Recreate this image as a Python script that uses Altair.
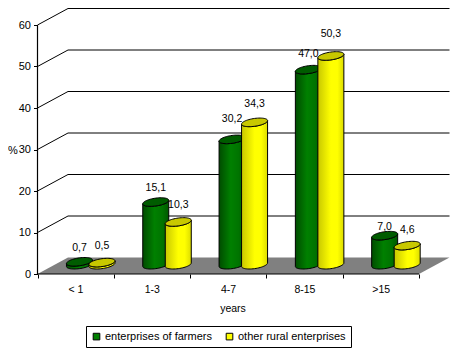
import json
import numpy as np
import pandas as pd
import altair as alt

categories = ["< 1", "1-3", "4-7", "8-15", ">15"]
farmers = [0.7, 15.1, 30.2, 47.0, 7.0]
other = [0.5, 10.3, 34.3, 50.3, 4.6]
series_names = ["enterprises of farmers", "other rural enterprises"]
y_ticks = [0, 10, 20, 30, 40, 50, 60]
# how far each value label sits above its bar top, in value units
farmers_lift = [3.3, 3.5, 4.9, 3.8, 2.2]
other_lift = [3.9, 4.2, 4.4, 5.2, 3.8]

W, H = 449, 341
PX_X, PX_Y = 76.3, 4.15
x_dom = [(8 - 37.5) / PX_X, (457 - 37.5) / PX_X]
y_dom = [(274 - 349) / PX_Y, (274 - 8) / PX_Y]
xs = alt.Scale(domain=x_dom, nice=False, zero=False)
ys = alt.Scale(domain=y_dom, nice=False, zero=False)

DEPTH_X, DEPTH_Y = 30.5 / PX_X, 16.5 / PX_Y
N = len(categories)
HALF_W, HALF_H, PHI = 13 / PX_X, 4.3 / PX_Y, 0.42
BASE = 2.24
OFFS = [0.55, 0.845]

FONT = "Liberation Sans"
label_expr = "(" + json.dumps(categories) + ")[datum.value] || ''"

x_axis = alt.Axis(
    values=list(range(N + 1)), labelExpr=label_expr, labelOffset=38, labelFont=FONT,
    labelFontSize=10.5, labelColor="black", labelPadding=6, tickColor="black", tickSize=4,
    domain=False, grid=False, offset=-75, title="years", titleFont=FONT, titleFontSize=10.5,
    titleFontWeight="normal", titleColor="black", titlePadding=9)
y_axis = alt.Axis(
    values=y_ticks, labelFont=FONT, labelFontSize=11, labelColor="black", labelPadding=3,
    tickColor="black", tickSize=4, domain=False, grid=False, offset=-29.5, title="%",
    titleFont=FONT, titleFontSize=11, titleFontWeight="normal", titleColor="black",
    titleAngle=0, titleX=-25, titleY=147, titleAlign="center")


def X():
    return alt.X("x:Q", scale=xs, axis=x_axis)


def Y():
    return alt.Y("y:Q", scale=ys, stack=None, axis=y_axis)


def ell(v, s, sign):
    return v + HALF_H * (sign * np.sin(s) * np.cos(PHI) + np.cos(s) * np.sin(PHI))


def cylinders(vals, off):
    body, cap = [], []
    for i, v in enumerate(vals):
        c = i + off
        for s in np.linspace(0, np.pi, 29):
            px = c + HALF_W * np.cos(s)
            top = BASE + v
            body.append(dict(b=i, x=px, y=ell(top, s, -1), y2=ell(BASE, s, -1)))
            cap.append(dict(b=i, x=px, y=ell(top, s, 1), y2=ell(top, s, -1)))
    return pd.DataFrame(body), pd.DataFrame(cap)


def cyl_layers(vals, off, stops, cap_color):
    body, cap = cylinders(vals, off)
    grad = alt.Gradient(
        gradient="linear", x1=0, y1=0, x2=1, y2=0,
        stops=[alt.GradientStop(offset=o, color=c) for o, c in stops],
    )
    a = alt.Chart(body).mark_area(fill=grad, stroke="black", strokeWidth=1, interpolate="linear").encode(
        x=X(), y=Y(), y2="y2:Q", detail="b:N")
    b = alt.Chart(cap).mark_area(fill=cap_color, stroke="black", strokeWidth=1, interpolate="linear").encode(
        x=X(), y=Y(), y2="y2:Q", detail="b:N")
    return [a, b]


# floor
floor_df = pd.DataFrame([
    dict(x=0, y=0, y2=0),
    dict(x=DEPTH_X, y=DEPTH_Y, y2=0),
    dict(x=N, y=DEPTH_Y, y2=0),
    dict(x=N + DEPTH_X, y=DEPTH_Y, y2=DEPTH_Y),
])
floor = alt.Chart(floor_df).mark_area(color="#808080", interpolate="linear").encode(
    x=X(), y=Y(), y2="y2:Q")

# wall grid lines
grid_rows = []
for t in y_ticks[1:]:
    grid_rows += [
        dict(g=t, x=0, y=t),
        dict(g=t, x=DEPTH_X, y=t + DEPTH_Y),
        dict(g=t, x=N + DEPTH_X, y=t + DEPTH_Y),
    ]
grid = alt.Chart(pd.DataFrame(grid_rows)).mark_line(color="black", strokeWidth=1).encode(
    x=X(), y=Y(), detail="g:N", order="x:Q")

# axis lines
axes_df = pd.DataFrame([dict(a=0, x=0, y=0), dict(a=0, x=0, y=y_ticks[-1]),
                        dict(a=1, x=0, y=0), dict(a=1, x=N, y=0)])
axes = alt.Chart(axes_df).mark_line(color="black", strokeWidth=1.2).encode(
    x=X(), y=Y(), detail="a:N")

# value labels
lab_rows = []
for i in range(N):
    lab_rows.append(dict(x=i + OFFS[0], y=BASE + farmers[i] + farmers_lift[i], t=f"{farmers[i]:.1f}".replace(".", ",")))
    lab_rows.append(dict(x=i + OFFS[1], y=BASE + other[i] + other_lift[i], t=f"{other[i]:.1f}".replace(".", ",")))
labels = alt.Chart(pd.DataFrame(lab_rows)).mark_text(
    font=FONT, fontSize=10.5, color="black", align="center", baseline="middle").encode(
    x=X(), y=Y(), text="t:N")

# legend carrier
leg_df = pd.DataFrame({"x": [0.5, 0.5], "y": [0.0, 0.0], "series": series_names})
legend = alt.Chart(leg_df).mark_square(opacity=0).encode(
    x=X(), y=Y(),
    color=alt.Color("series:N", scale=alt.Scale(domain=series_names, range=["#008000", "#ffff00"]),
                    legend=alt.Legend(
                        orient="none", legendX=78, legendY=318, direction="horizontal", columns=2,
                        title=None, labelFont=FONT, labelFontSize=11, labelColor="black",
                        symbolType="square", symbolSize=44, symbolOpacity=1, symbolStrokeColor="black",
                        symbolStrokeWidth=1, fillColor="white", strokeColor="black",
                        padding=5, columnPadding=12, labelOffset=3)),
)

green = [(0, "#004c00"), (0.45, "#008000"), (0.75, "#007400"), (1, "#005800")]
yellow = [(0, "#c8c800"), (0.5, "#ffff00"), (0.75, "#ffff00"), (1, "#dcdc00")]

chart = alt.layer(
    floor, grid, axes,
    *cyl_layers(farmers, OFFS[0], green, "#005c00"),
    *cyl_layers(other, OFFS[1], yellow, "#c8c800"),
    labels, legend,
).properties(
    width=W, height=H, padding=0, autosize=alt.AutoSizeParams(type="none"), background="white",
).configure_view(stroke=None)

chart.save("out.html", embed_options={"renderer": "svg", "actions": False})
